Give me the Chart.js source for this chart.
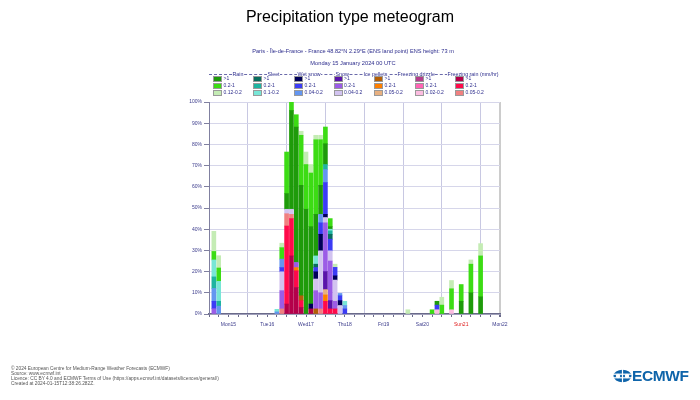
<!DOCTYPE html>
<html>
<head>
<meta charset="utf-8">
<script src="https://cdn.jsdelivr.net/npm/chart.js@4.4.1/dist/chart.umd.min.js"></script>
<style>
  body { margin: 0; background: #fff; }
  #wrap { position: relative; width: 700px; height: 400px; overflow: hidden;
          font-family: "Liberation Sans", Arial, sans-serif; }
  #chart { position: absolute; left: 0; top: 0; }
  .t { position: absolute; white-space: nowrap; }
  .title { left: 0; width: 700px; top: 8px; text-align: center; font-size: 16px; color: #000; }
  .sub { left: 0; width: 706px; text-align: center; font-size: 5.6px; color: #2c2c8c; }
  .hdr { font-size: 5.3px; color: #2c2c8c; background: #fff; padding: 0 0.5px; line-height: 6px; }
  .sw { position: absolute; width: 9px; height: 6px; box-sizing: border-box; border: 0.5px solid #999; }
  .lab { font-size: 5px; color: #2c2c8c; line-height: 6px; }
  .foot { left: 11px; font-size: 4.8px; color: #555; line-height: 5px; }
  .logo { left: 613px; top: 368px; }
</style>
</head>
<body>
<div id="wrap">
  <canvas id="chart" width="700" height="400"></canvas>
  <div class="t title">Precipitation type meteogram</div>
  <div class="t sub" style="top:48px">Paris - Île-de-France - France 48.82°N 2.29°E (ENS land point) ENS height: 73 m</div>
  <div class="t sub" style="top:60px;font-size:5.7px">Monday 15 January 2024 00 UTC</div>
  <div id="legend"></div>
  <div class="t foot" style="top:366px">© 2024 European Centre for Medium-Range Weather Forecasts (ECMWF)<br>Source: www.ecmwf.int<br>Licence: CC BY 4.0 and ECMWF Terms of Use (https://apps.ecmwf.int/datasets/licences/general/)<br>Created at 2024-01-15T12:38:26.282Z.</div>
  <div class="t logo">
    <svg width="19" height="14" viewBox="0 0 19 14" style="position:absolute;left:0;top:1px">
      <ellipse cx="9.5" cy="7" rx="9" ry="6.2" fill="#0e64aa"/>
      <rect x="0" y="4.6" width="19" height="1.2" fill="#fff"/>
      <rect x="0" y="8.2" width="19" height="1.2" fill="#fff"/>
      <rect x="8.9" y="0" width="1.2" height="14" fill="#fff"/>
      <ellipse cx="5" cy="7" rx="2.2" ry="2.2" fill="#fff"/>
      <ellipse cx="14" cy="7" rx="2.2" ry="2.2" fill="#fff"/>
    </svg>
    <div style="position:absolute;left:19px;top:-1px;font-size:15.5px;font-weight:bold;color:#0e64aa;letter-spacing:-0.4px">ECMWF</div>
  </div>
</div>
<script>
// forecast steps (hours after Mon 15 Jan 00 UTC)
const hours = [3, 6, 42, 45, 48, 51, 54, 57, 60, 63, 66, 69, 72, 75, 78, 81, 84, 123, 138, 141, 144, 150, 156, 162, 168];
const days = ["Mon15", "Tue16", "Wed17", "Thu18", "Fri19", "Sat20", "Sun21", "Mon22"];

// % of members per type and intensity class [>1, 0.2-1, light]
const rainHeavy   = [0, 0, 0, 0, 7.4, 46.6, 63.9, 52.1, 49.4, 36.5, 19.6, 13.7, 9.8, 1.2, 0, 0, 0, 0, 0, 1.8, 0, 0, 6, 10, 8.1];
const rainMod     = [4, 6.3, 0, 5.4, 19.6, 4, 5.8, 23.6, 21.1, 25.3, 35.2, 21.5, 7.9, 3.8, 0, 0, 0, 0, 2, 0, 4.2, 9.9, 7.9, 13.5, 19.3];
const rainLight   = [9.5, 5.8, 0, 2.1, 0, 0, 0, 1.9, 5.9, 4, 2.1, 2.1, 0, 0, 1.5, 0, 0, 2, 0, 0, 3.7, 3.9, 0, 2, 5.8];
const sleetHeavy  = [0, 0, 0, 0, 0, 0, 0, 0, 0, 0, 1.6, 0, 0, 2.3, 0, 0, 0, 0, 0, 0, 0, 0, 0, 0, 0];
const sleetMod    = [5.5, 2.3, 0, 0, 0, 0, 0, 0, 0, 0, 0, 0, 2.4, 1.6, 0, 0, 0, 0, 0, 0, 0, 0, 0, 0, 0];
const sleetLight  = [8, 9.4, 1.2, 0, 0, 0, 0, 0, 0, 0, 3.9, 0, 0, 0.8, 0, 0, 2, 0, 0, 0, 0, 0, 0, 0, 0];
const wetHeavy    = [0, 0, 0, 0, 0, 0, 0, 0, 0, 2.3, 3.4, 7.8, 1.5, 0, 2, 2.3, 0, 0, 0, 0, 0, 0, 0, 0, 0];
const wetMod      = [3.5, 0, 0, 2, 0, 0, 0, 0, 0, 0, 2, 5.4, 15, 5.5, 4, 2.3, 2.4, 0, 0, 2.2, 0, 0, 0, 0, 0];
const wetLight    = [6, 3.7, 1, 4, 0, 0, 0, 0, 0, 0, 0, 4, 6.1, 0, 0, 1.1, 1.6, 0, 0, 0, 0, 0, 0, 0, 0];
const snowHeavy   = [0, 0, 0, 0, 0, 0, 0, 0, 0, 0, 0, 0, 8.5, 3.9, 0, 0, 0, 0, 0, 0, 0, 0, 0, 0, 0];
const snowMod     = [2.5, 0, 0, 8.6, 0, 0, 2.4, 0, 0, 0, 8.6, 7.6, 23, 18.7, 3.6, 0, 0, 0, 0, 0, 0, 0, 0, 0, 0];
const snowLight   = [0, 0, 0, 8.9, 2.1, 2.4, 0, 0, 0, 0, 5.5, 19.8, 2.5, 4.8, 10, 4, 0, 0, 0, 0, 0, 0, 0, 0, 0];
const iceHeavy    = [0, 0, 0, 0, 0, 0, 0, 2.3, 0, 0, 2.4, 0, 0, 0, 0, 0, 0, 0, 0, 0, 0, 0, 0, 0, 0];
const iceMod      = [0, 0, 0, 0, 0, 0, 1.5, 0, 0, 0, 0, 0, 3, 0, 0, 0, 0, 0, 0, 0, 0, 0, 0, 0, 0];
const iceLight    = [0, 0, 0, 0, 0, 0, 0, 0, 0, 0, 0, 0, 2.5, 0, 0, 0, 0, 0, 0, 0, 0, 0, 0, 0, 0];
const fzdzHeavy   = [0, 0, 0, 0, 0, 0, 0, 0, 0, 0, 0, 0, 0, 0, 0, 0, 0, 0, 0, 0, 0, 0, 0, 0, 0];
const fzdzMod     = [0, 0, 0, 0, 0, 0, 0, 0, 0, 0, 0, 0, 0, 0, 0, 0, 0, 0, 0, 0, 0, 0, 0, 0, 0];
const fzdzLight   = [0, 0, 0, 0, 0, 0, 0, 0, 0, 0, 0, 0, 0, 0, 0, 0, 0, 0, 0, 2, 0, 2, 0, 0, 0];
const fzraHeavy   = [0, 0, 0, 0, 4.7, 27.4, 12.5, 3.1, 0, 2.4, 0, 0, 0, 0, 0, 0, 0, 0, 0, 0, 0, 0, 0, 0, 0];
const fzraMod     = [0, 0, 0, 0, 36.8, 17.6, 7.9, 3.2, 0, 0, 0, 0, 6, 2.4, 2.4, 0, 0, 0, 0, 0, 0, 0, 0, 0, 0];
const fzraLight   = [0, 0, 0, 2.4, 5.8, 2, 0, 0, 0, 0, 0, 2.4, 0, 0, 0, 0, 0, 0, 0, 0, 0, 0, 0, 0, 0];

// legend columns, left to right
const types = [
  { name: "Rain", labels: [">1", "0.2-1", "0.12-0.2"], colors: ["#1e9b0a", "#3cdc14", "#c4ecb4"], data: [rainHeavy, rainMod, rainLight] },
  { name: "Sleet", labels: [">1", "0.2-1", "0.1-0.2"], colors: ["#0a6e5e", "#1eb4a0", "#78e6d6"], data: [sleetHeavy, sleetMod, sleetLight] },
  { name: "Wet snow", labels: [">1", "0.2-1", "0.04-0.2"], colors: ["#00005a", "#3c3cf5", "#6496f0"], data: [wetHeavy, wetMod, wetLight] },
  { name: "Snow", labels: [">1", "0.2-1", "0.04-0.2"], colors: ["#5a14aa", "#9b5ce6", "#d2c3f0"], data: [snowHeavy, snowMod, snowLight] },
  { name: "Ice pellets", labels: [">1", "0.2-1", "0.05-0.2"], colors: ["#b45f06", "#ff7f00", "#e8b080"], data: [iceHeavy, iceMod, iceLight] },
  { name: "Freezing drizzle", labels: [">1", "0.2-1", "0.02-0.2"], colors: ["#b43c8c", "#ff64b4", "#fcbce0"], data: [fzdzHeavy, fzdzMod, fzdzLight] },
  { name: "Freezing rain (mm/hr)", labels: [">1", "0.2-1", "0.05-0.2"], colors: ["#b4004a", "#ff0a4a", "#f08080"], data: [fzraHeavy, fzraMod, fzraLight] },
];

// stacked bottom-up: freezing rain ... rain, heavy first
const datasets = [];
types.slice().reverse().forEach(t => {
  t.data.forEach((vals, i) => {
    datasets.push({
      label: t.name + " " + t.labels[i],
      backgroundColor: t.colors[i],
      borderWidth: 0,
      barThickness: 4,
      data: hours.map((h, j) => ({ x: h, y: vals[j] })).filter(p => p.y > 0),
    });
  });
});

// html legend
const legend = document.getElementById("legend");
const colX = [213, 253, 294, 333.5, 374, 415, 455];
const hdrX = [232, 267, 297, 335, 363, 397, 447];
const rowY = [75.5, 82.5, 89.5];
let html = '<div class="t" style="left:209px;top:73.5px;width:289px;border-top:1px dashed #6a6aaa"></div>';
types.forEach((t, c) => {
  html += `<div class="t hdr" style="left:${hdrX[c]}px;top:71px">${t.name}</div>`;
  t.labels.forEach((l, r) => {
    html += `<div class="sw" style="left:${colX[c]}px;top:${rowY[r]}px;background:${t.colors[r]}"></div>`;
    html += `<div class="t lab" style="left:${colX[c] + 10.5}px;top:${rowY[r] - 0.5}px">${l}</div>`;
  });
});
legend.innerHTML = html;

const navy = "#3c3c8c";

new Chart(document.getElementById("chart"), {
  type: "bar",
  data: { datasets },
  options: {
    responsive: false,
    animation: false,
    devicePixelRatio: 1,
    layout: { padding: { left: 179, right: 200, top: 102, bottom: 66 } },
    plugins: { legend: { display: false }, tooltip: { enabled: false }, title: { display: false } },
    scales: {
      x: {
        type: "linear",
        stacked: true,
        offset: false,
        min: 0,
        max: 180,
        afterFit: s => { s.height = 20; },
        border: { color: "#6a6a8a", width: 1.5 },
        grid: {
          offset: false,
          drawOnChartArea: true,
          color: ctx => ctx.tick && ctx.tick.value === 180 ? "#cccccc" : (ctx.tick && ctx.tick.value % 24 === 0 ? "#c8c8e2" : "rgba(0,0,0,0)"),
          lineWidth: ctx => ctx.tick && ctx.tick.value === 180 ? 2 : 1,
          tickColor: "#6a6a8a",
          tickLength: 3,
        },
        ticks: {
          stepSize: 6,
          autoSkip: false,
          maxRotation: 0,
          padding: 5,
          font: { size: 5, family: "Liberation Sans" },
          color: ctx => ctx.tick && ctx.tick.value === 156 ? "#e02020" : navy,
          callback: v => v % 24 === 12 ? days[(v - 12) / 24] : "",
        },
      },
      y: {
        stacked: true,
        min: 0,
        max: 100,
        afterFit: s => { s.width = 30; },
        border: { color: "#8080a0", width: 1 },
        grid: { color: "#d6d6ea", tickColor: "#8080a0", tickLength: 5 },
        ticks: {
          stepSize: 10,
          padding: 2,
          font: { size: 5, family: "Liberation Sans" },
          color: navy,
          callback: v => v + "%",
        },
      },
    },
  },
});
</script>
</body>
</html>
